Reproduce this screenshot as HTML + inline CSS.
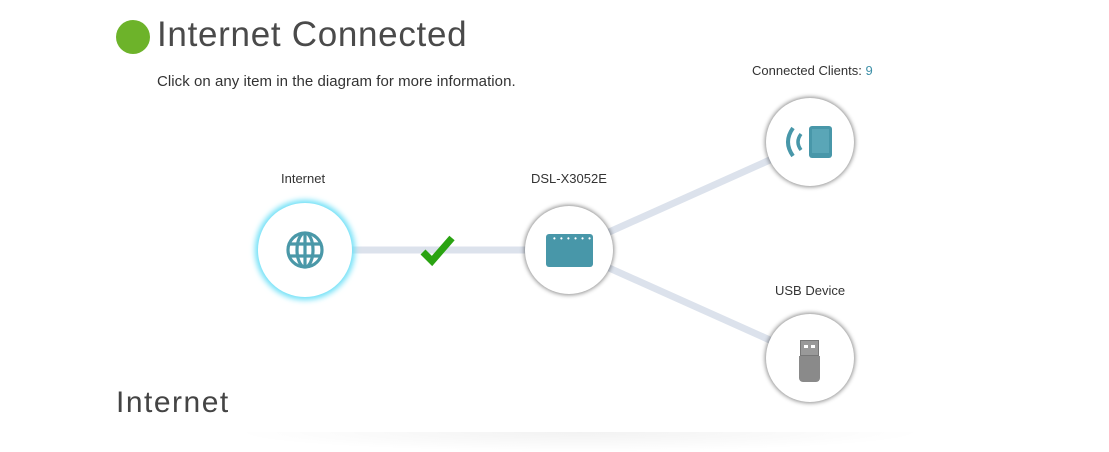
<!DOCTYPE html>
<html><head><style>
body{margin:0;width:1109px;height:442px;background:#fff;position:relative;overflow:hidden;font-family:"Liberation Sans",sans-serif;color:#333}
.t{position:absolute;white-space:nowrap}
.c{position:absolute;width:88px;height:88px;border-radius:50%;background:#fff;box-shadow:0 0 4px 1px rgba(0,0,0,.45);}
</style></head><body>
<div style="position:absolute;left:116px;top:20px;width:34px;height:34px;border-radius:50%;background:#6db32a"></div>
<div class="t" style="left:157px;top:15px;font-size:35px;color:#4a4a4a;letter-spacing:0.7px">Internet Connected</div>
<div class="t" style="left:157px;top:73px;font-size:15px;color:#333;letter-spacing:0.05px">Click on any item in the diagram for more information.</div>
<div class="t" style="left:116px;top:386px;font-size:30px;color:#444;letter-spacing:1.5px">Internet</div>
<div style="position:absolute;left:230px;top:432px;width:700px;height:20px;background:radial-gradient(ellipse at center top,rgba(0,0,0,.05),rgba(0,0,0,0) 70%)"></div>
<svg width="1109" height="442" style="position:absolute;left:0;top:0">
<g stroke="#dce2ec" stroke-width="7" stroke-linecap="round">
<line x1="305" y1="250" x2="569" y2="250"/>
<line x1="569" y1="250" x2="810" y2="142"/>
<line x1="569" y1="250" x2="810" y2="358"/>
</g>
<path d="M423 252 L432 261 L452 238" stroke="#2aa312" stroke-width="7" fill="none" stroke-linejoin="miter"/>
</svg>
<div class="t" style="left:281px;top:171px;font-size:13px">Internet</div>
<div class="t" style="left:531px;top:171px;font-size:13px">DSL-X3052E</div>
<div class="t" style="left:752px;top:63px;font-size:13px">Connected Clients: <span style="color:#3e90a8">9</span></div>
<div class="t" style="left:775px;top:283px;font-size:13px">USB Device</div>
<div style="position:absolute;left:258px;top:203px;width:94px;height:94px;border-radius:50%;background:#fff;box-shadow:0 0 6px 3px #6ee0f7"></div>
<svg style="position:absolute;left:285px;top:230px" width="40" height="40" viewBox="0 0 40 40" fill="none" stroke="#4a98a8" stroke-width="3.2">
<circle cx="20" cy="20" r="17"/><ellipse cx="20" cy="20" rx="8" ry="17"/><line x1="20" y1="3" x2="20" y2="37"/><line x1="4" y1="14" x2="36" y2="14"/><line x1="4" y1="26" x2="36" y2="26"/></svg>
<div class="c" style="left:525px;top:206px"></div>
<div style="position:absolute;left:546px;top:234px;width:47px;height:33px;border-radius:3px;background:#4897a9"></div>
<div class="t" style="left:553px;top:234px;font-size:8px;color:#fff;letter-spacing:1px">• • • • • •</div>
<div class="c" style="left:766px;top:98px"></div>
<div style="position:absolute;left:809px;top:126px;width:23px;height:32px;border-radius:3px;background:#4897a9"></div>
<div style="position:absolute;left:812px;top:129px;width:17px;height:24px;background:#5aa6b7"></div>
<svg style="position:absolute;left:780px;top:124px" width="28" height="36"><path d="M13 4 Q3 18 13 32" stroke="#4897a9" stroke-width="4" fill="none"/><path d="M21 10 Q15 18 21 26" stroke="#4897a9" stroke-width="3.5" fill="none"/></svg>
<div class="c" style="left:766px;top:314px"></div>
<div style="position:absolute;left:800px;top:340px;width:19px;height:16px;background:#999;border:1px solid #777;box-sizing:border-box"></div>
<div style="position:absolute;left:804px;top:345px;width:4px;height:3px;background:#fff"></div>
<div style="position:absolute;left:811px;top:345px;width:4px;height:3px;background:#fff"></div>
<div style="position:absolute;left:799px;top:356px;width:21px;height:26px;background:#8a8a8a;border-radius:0 0 4px 4px"></div>
</body></html>
